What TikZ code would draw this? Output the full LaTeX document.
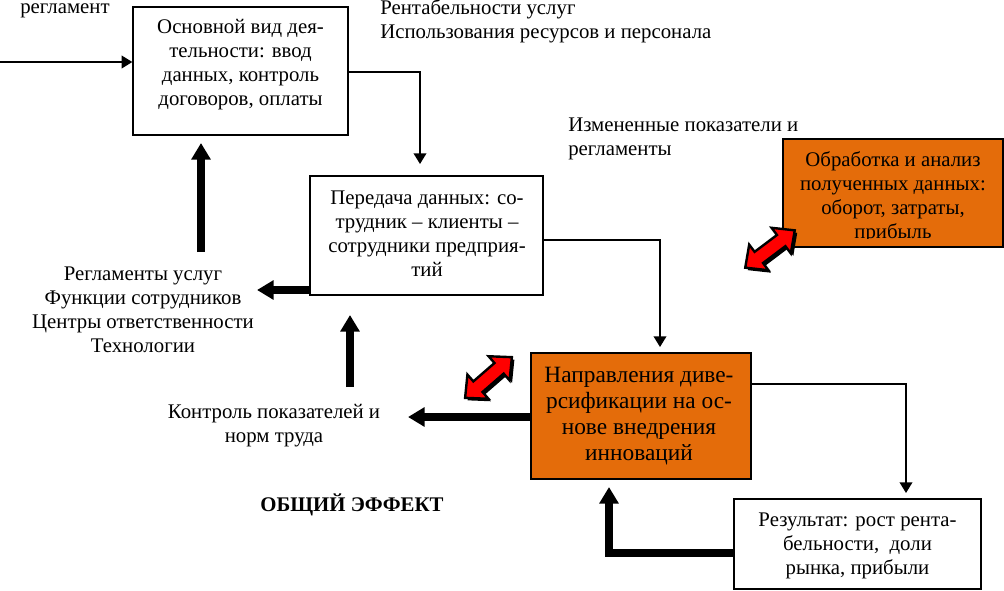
\documentclass[tikz,border=0pt]{standalone}
\usepackage{fontspec}
\setmainfont{Liberation Serif}
\usetikzlibrary{arrows.meta,calc}
\definecolor{orangeC}{RGB}{228,108,10}
\definecolor{redC}{RGB}{255,0,0}
\newcommand\redDbl[3]{%
  \begin{scope}[shift={(#1+2.5,#2+2.5)},rotate=#3]
    \fill[black] (-31,0)--(-14,-16)--(-14,-7)--(14,-7)--(14,-16)--(31,0)--(14,16)--(14,7)--(-14,7)--(-14,16)--cycle;
  \end{scope}
  \begin{scope}[shift={(#1,#2)},rotate=#3]
    \filldraw[fill=redC,draw=black,line width=1.8pt,line join=miter] (-31,0)--(-14,-16)--(-14,-7)--(14,-7)--(14,-16)--(31,0)--(14,16)--(14,7)--(-14,7)--(-14,16)--cycle;
  \end{scope}}
\begin{document}
\begin{tikzpicture}[x=0.75pt,y=-0.75pt,
  bx/.style={draw,line width=1pt,inner sep=0pt},
  obx/.style={bx,fill=orangeC},
  txt/.style={inner sep=0pt,align=center,font=\fontsize{15.6}{18}\selectfont},
  otxt/.style={inner sep=0pt,align=center,font=\fontsize{17.5}{19.5}\selectfont},
  ltxt/.style={inner sep=0pt,align=left,font=\fontsize{15.6}{18}\selectfont},
  thinarr/.style={line width=1.1pt,-{Triangle[length=8pt,width=9.5pt]}},
  thickarr/.style={line width=5.5pt,-{Triangle[length=12.5pt,width=14pt]}},
]
\useasboundingbox (0,0) rectangle (1004,590);

% boxes
\node[bx,minimum width=161.25pt,minimum height=96pt] (box1) at (240.5,71) {};
\node[bx,minimum width=174.75pt,minimum height=89.25pt] (box2) at (426.5,235.5) {};
\node[obx,minimum width=165pt,minimum height=81pt] (obox2) at (893,193) {};
\node[obx,minimum width=165pt,minimum height=94.5pt] (obox1) at (641,416) {};
\node[bx,minimum width=185.25pt,minimum height=67.5pt] (res) at (857.5,544) {};

% box texts
\node[txt] (box1t) at (240.5,65) {Основной вид дея-\\тельности: ввод\\данных, контроль\\договоров, оплаты};
\node[txt] (box2t) at (427,234) {Передача данных: со-\\трудник – клиенты –\\сотрудники предприя-\\тий};
\begin{scope}
  \clip (783,139) rectangle (1003,238);
  \node[txt] (obox2t) at (893,197.5) {Обработка и анализ\\полученных данных:\\оборот, затраты,\\прибыль};
\end{scope}
\node[otxt] (obox1t) at (639,416.5) {Направления диве-\\рсификации на ос-\\нове внедрения\\инноваций};
\node[txt] (rest) at (857.5,546) {Результат: рост рента-\\бельности,\ \ доли\\рынка, прибыли};

% free texts
\node[txt,anchor=base] (regl) at (65,13) {регламент};
\node[ltxt,anchor=west] (rent) at (380,21.5) {Рентабельности услуг\\Использования ресурсов и персонала};
\node[ltxt,anchor=west] (izm) at (568,139) {Измененные показатели и\\регламенты};
\node[txt] (regs) at (143,310) {Регламенты услуг\\Функции сотрудников\\Центры ответственности\\Технологии};
\node[txt] (kontr) at (274,426) {Контроль показателей и\\норм труда};
\node[txt,font=\bfseries\fontsize{15.6}{18}\selectfont] (eff) at (352,505) {ОБЩИЙ ЭФФЕКТ};

% coordinates
\coordinate (in) at (0,62);
\coordinate (t12) at (420,164);
\coordinate (t23) at (660,347);
\coordinate (t3r) at (906,493);
\coordinate (tr3) at (609,487);
\coordinate (tk) at (408,417);
\coordinate (tregs) at (257,290);
\coordinate (kup0) at (350,387);
\coordinate (kup1) at (350,315);
\coordinate (rup0) at (201,252);
\coordinate (rup1) at (201,143);

% thin connectors
\draw[thinarr] (in) -- (in -| box1.west);
\draw[thinarr] (box1.east |- 0,72) -| (t12);
\draw[thinarr] (box2.east |- 0,240) -| (t23);
\draw[thinarr] (obox1.east |- 0,384) -| (t3r);

% thick connectors
\draw[thickarr] (res.west |- 0,553) -| (tr3);
\draw[thickarr] (obox1.west |- tk) -- (tk);
\draw[thickarr] (box2.west |- tregs) -- (tregs);
\draw[thickarr] (kup0) -- (kup1);
\draw[thickarr] (rup0) -- (rup1);

% red double arrows
\redDbl{770}{249}{37}
\redDbl{488.5}{377.5}{41}
\end{tikzpicture}
\end{document}
